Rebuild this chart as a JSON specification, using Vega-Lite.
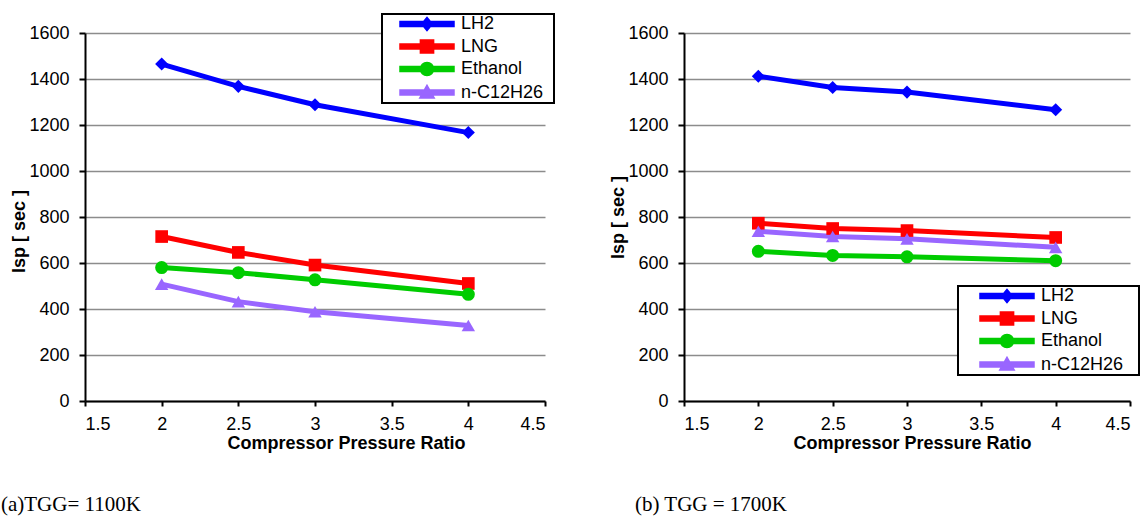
{
  "$schema": "https://vega.github.io/schema/vega-lite/v6.json",
  "padding": {"left": 0, "top": 13, "right": 5, "bottom": 5},
  "background": "white",
  "datasets": {
    "a": [
      {"fuel": "LH2", "ratio": 2, "isp": 1465},
      {"fuel": "LH2", "ratio": 2.5, "isp": 1368},
      {"fuel": "LH2", "ratio": 3, "isp": 1288},
      {"fuel": "LH2", "ratio": 4, "isp": 1167},
      {"fuel": "LNG", "ratio": 2, "isp": 715},
      {"fuel": "LNG", "ratio": 2.5, "isp": 646},
      {"fuel": "LNG", "ratio": 3, "isp": 591},
      {"fuel": "LNG", "ratio": 4, "isp": 511},
      {"fuel": "Ethanol", "ratio": 2, "isp": 580},
      {"fuel": "Ethanol", "ratio": 2.5, "isp": 558},
      {"fuel": "Ethanol", "ratio": 3, "isp": 527},
      {"fuel": "Ethanol", "ratio": 4, "isp": 464},
      {"fuel": "n-C12H26", "ratio": 2, "isp": 508},
      {"fuel": "n-C12H26", "ratio": 2.5, "isp": 432},
      {"fuel": "n-C12H26", "ratio": 3, "isp": 388},
      {"fuel": "n-C12H26", "ratio": 4, "isp": 328}
    ],
    "b": [
      {"fuel": "LH2", "ratio": 2, "isp": 1412},
      {"fuel": "LH2", "ratio": 2.5, "isp": 1363},
      {"fuel": "LH2", "ratio": 3, "isp": 1343},
      {"fuel": "LH2", "ratio": 4, "isp": 1266},
      {"fuel": "LNG", "ratio": 2, "isp": 773},
      {"fuel": "LNG", "ratio": 2.5, "isp": 750},
      {"fuel": "LNG", "ratio": 3, "isp": 741},
      {"fuel": "LNG", "ratio": 4, "isp": 711},
      {"fuel": "Ethanol", "ratio": 2, "isp": 651},
      {"fuel": "Ethanol", "ratio": 2.5, "isp": 633},
      {"fuel": "Ethanol", "ratio": 3, "isp": 627},
      {"fuel": "Ethanol", "ratio": 4, "isp": 610},
      {"fuel": "n-C12H26", "ratio": 2, "isp": 738},
      {"fuel": "n-C12H26", "ratio": 2.5, "isp": 715},
      {"fuel": "n-C12H26", "ratio": 3, "isp": 705},
      {"fuel": "n-C12H26", "ratio": 4, "isp": 668}
    ]
  },
  "spacing": 54,
  "resolve": {"scale": {"color": "independent"}, "legend": {"color": "independent"}},
  "hconcat": [
    {
      "width": 460,
      "height": 368,
      "data": {"name": "a"},
      "title": {"text": "(a)TGG= 1100K", "orient": "bottom", "anchor": "start", "frame": "bounds", "font": "Liberation Serif", "fontSize": 21, "fontWeight": "normal", "color": "black", "offset": 42, "dx": -10},
      "encoding": {
        "x": {"field": "ratio", "type": "quantitative", "scale": {"domain": [1.5, 4.5], "nice": false, "zero": false},
          "axis": {"values": [1.5, 2, 2.5, 3, 3.5, 4, 4.5], "format": "~g", "title": "Compressor Pressure Ratio", "grid": false, "titleX": 261}},
        "y": {"field": "isp", "type": "quantitative", "scale": {"domain": [0, 1600], "nice": false},
          "axis": {"values": [0, 200, 400, 600, 800, 1000, 1200, 1400, 1600], "format": "d", "title": "Isp [ sec ]", "titleY": 198}},
        "color": {"field": "fuel", "type": "nominal",
          "scale": {"domain": ["LH2", "LNG", "Ethanol", "n-C12H26"], "range": ["#0000FF", "#FF0000", "#00CC00", "#9966FF"]},
          "legend": {"title": " ", "titleOrient": "right", "titlePadding": 10, "orient": "none", "legendX": 297, "legendY": -19, "symbolSize": 144, "labelOffset": 46, "symbolOffset": 14, "padding": 1, "rowPadding": 2.5, "strokeColor": "black", "fillColor": "white", "labelFontSize": 18, "labelFont": "Liberation Sans", "labelColor": "black",
            "encode": {
              "legend": {"update": {"strokeWidth": {"value": 2}}},
              "symbols": {"update": {
              "shape": {"signal": "datum.value === 'LH2' ? 'M-1,-0.4H8V0.4H-1Z M3.5,-1.1L4.4,0L3.5,1.1L2.6,0Z' : datum.value === 'LNG' ? 'M-1,-0.4H8V0.4H-1Z M2.4,-1.1H4.6V1.1H2.4Z' : datum.value === 'Ethanol' ? 'M-1,-0.4H8V0.4H-1Z M4.6,0A1.1,1.1,0,1,1,2.4,0A1.1,1.1,0,1,1,4.6,0Z' : 'M-1,-0.4H8V0.4H-1Z M3.5,-1.2L4.7,0.9L2.3,0.9Z'"},
              "fill": {"signal": "datum.value === 'LH2' ? '#0000FF' : datum.value === 'LNG' ? '#FF0000' : datum.value === 'Ethanol' ? '#00CC00' : '#9966FF'"},
              "stroke": {"value": "transparent"},
              "opacity": {"value": 1}
            }}}}
        }
      },
      "layer": [
        {"mark": {"type": "line", "strokeWidth": 5}},
        {"transform": [{"filter": "datum.fuel === 'LH2'"}], "mark": {"type": "point", "shape": "diamond", "filled": true, "size": 170, "opacity": 1}},
        {"transform": [{"filter": "datum.fuel === 'LNG'"}], "mark": {"type": "point", "shape": "square", "filled": true, "size": 160, "opacity": 1}},
        {"transform": [{"filter": "datum.fuel === 'Ethanol'"}], "mark": {"type": "point", "shape": "circle", "filled": true, "size": 170, "opacity": 1}},
        {"transform": [{"filter": "datum.fuel === 'n-C12H26'"}], "mark": {"type": "point", "shape": "triangle-up", "filled": true, "size": 180, "opacity": 1}}
      ]
    },
    {
      "width": 446,
      "height": 368,
      "data": {"name": "b"},
      "title": {"text": "(b) TGG = 1700K", "orient": "bottom", "anchor": "start", "frame": "bounds", "font": "Liberation Serif", "fontSize": 21, "fontWeight": "normal", "color": "black", "offset": 42, "dx": 25},
      "encoding": {
        "x": {"field": "ratio", "type": "quantitative", "scale": {"domain": [1.5, 4.5], "nice": false, "zero": false},
          "axis": {"values": [1.5, 2, 2.5, 3, 3.5, 4, 4.5], "format": "~g", "title": "Compressor Pressure Ratio", "grid": false, "titleX": 228}},
        "y": {"field": "isp", "type": "quantitative", "scale": {"domain": [0, 1600], "nice": false},
          "axis": {"values": [0, 200, 400, 600, 800, 1000, 1200, 1400, 1600], "format": "d", "title": "Isp [ sec ]"}},
        "color": {"field": "fuel", "type": "nominal",
          "scale": {"domain": ["LH2", "LNG", "Ethanol", "n-C12H26"], "range": ["#0000FF", "#FF0000", "#00CC00", "#9966FF"]},
          "legend": {"title": " ", "titleOrient": "right", "titlePadding": 15, "orient": "none", "legendX": 274, "legendY": 253, "symbolSize": 144, "labelOffset": 46, "symbolOffset": 18, "padding": 1, "rowPadding": 2.5, "strokeColor": "black", "fillColor": "white", "labelFontSize": 18, "labelFont": "Liberation Sans", "labelColor": "black",
            "encode": {
              "legend": {"update": {"strokeWidth": {"value": 2}}},
              "symbols": {"update": {
              "shape": {"signal": "datum.value === 'LH2' ? 'M-1,-0.4H8V0.4H-1Z M3.5,-1.1L4.4,0L3.5,1.1L2.6,0Z' : datum.value === 'LNG' ? 'M-1,-0.4H8V0.4H-1Z M2.4,-1.1H4.6V1.1H2.4Z' : datum.value === 'Ethanol' ? 'M-1,-0.4H8V0.4H-1Z M4.6,0A1.1,1.1,0,1,1,2.4,0A1.1,1.1,0,1,1,4.6,0Z' : 'M-1,-0.4H8V0.4H-1Z M3.5,-1.2L4.7,0.9L2.3,0.9Z'"},
              "fill": {"signal": "datum.value === 'LH2' ? '#0000FF' : datum.value === 'LNG' ? '#FF0000' : datum.value === 'Ethanol' ? '#00CC00' : '#9966FF'"},
              "stroke": {"value": "transparent"},
              "opacity": {"value": 1}
            }}}}
        }
      },
      "layer": [
        {"mark": {"type": "line", "strokeWidth": 5}},
        {"transform": [{"filter": "datum.fuel === 'LH2'"}], "mark": {"type": "point", "shape": "diamond", "filled": true, "size": 170, "opacity": 1}},
        {"transform": [{"filter": "datum.fuel === 'LNG'"}], "mark": {"type": "point", "shape": "square", "filled": true, "size": 160, "opacity": 1}},
        {"transform": [{"filter": "datum.fuel === 'Ethanol'"}], "mark": {"type": "point", "shape": "circle", "filled": true, "size": 170, "opacity": 1}},
        {"transform": [{"filter": "datum.fuel === 'n-C12H26'"}], "mark": {"type": "point", "shape": "triangle-up", "filled": true, "size": 180, "opacity": 1}}
      ]
    }
  ],
  "config": {
    "font": "Liberation Sans",
    "view": {"stroke": null},
    "axis": {"domainColor": "black", "domainWidth": 2, "tickColor": "black", "tickWidth": 2, "labelFont": "Liberation Sans", "labelFontSize": 18, "labelColor": "black", "titleFont": "Liberation Sans", "titleFontSize": 18, "titleFontWeight": "bold", "titleColor": "black", "gridColor": "#8c8c8c", "gridWidth": 1.5},
    "axisX": {"tickSize": 5, "labelPadding": 9, "titlePadding": 1},
    "axisY": {"tickSize": 6, "labelPadding": 10, "titlePadding": 0}
  }
}
